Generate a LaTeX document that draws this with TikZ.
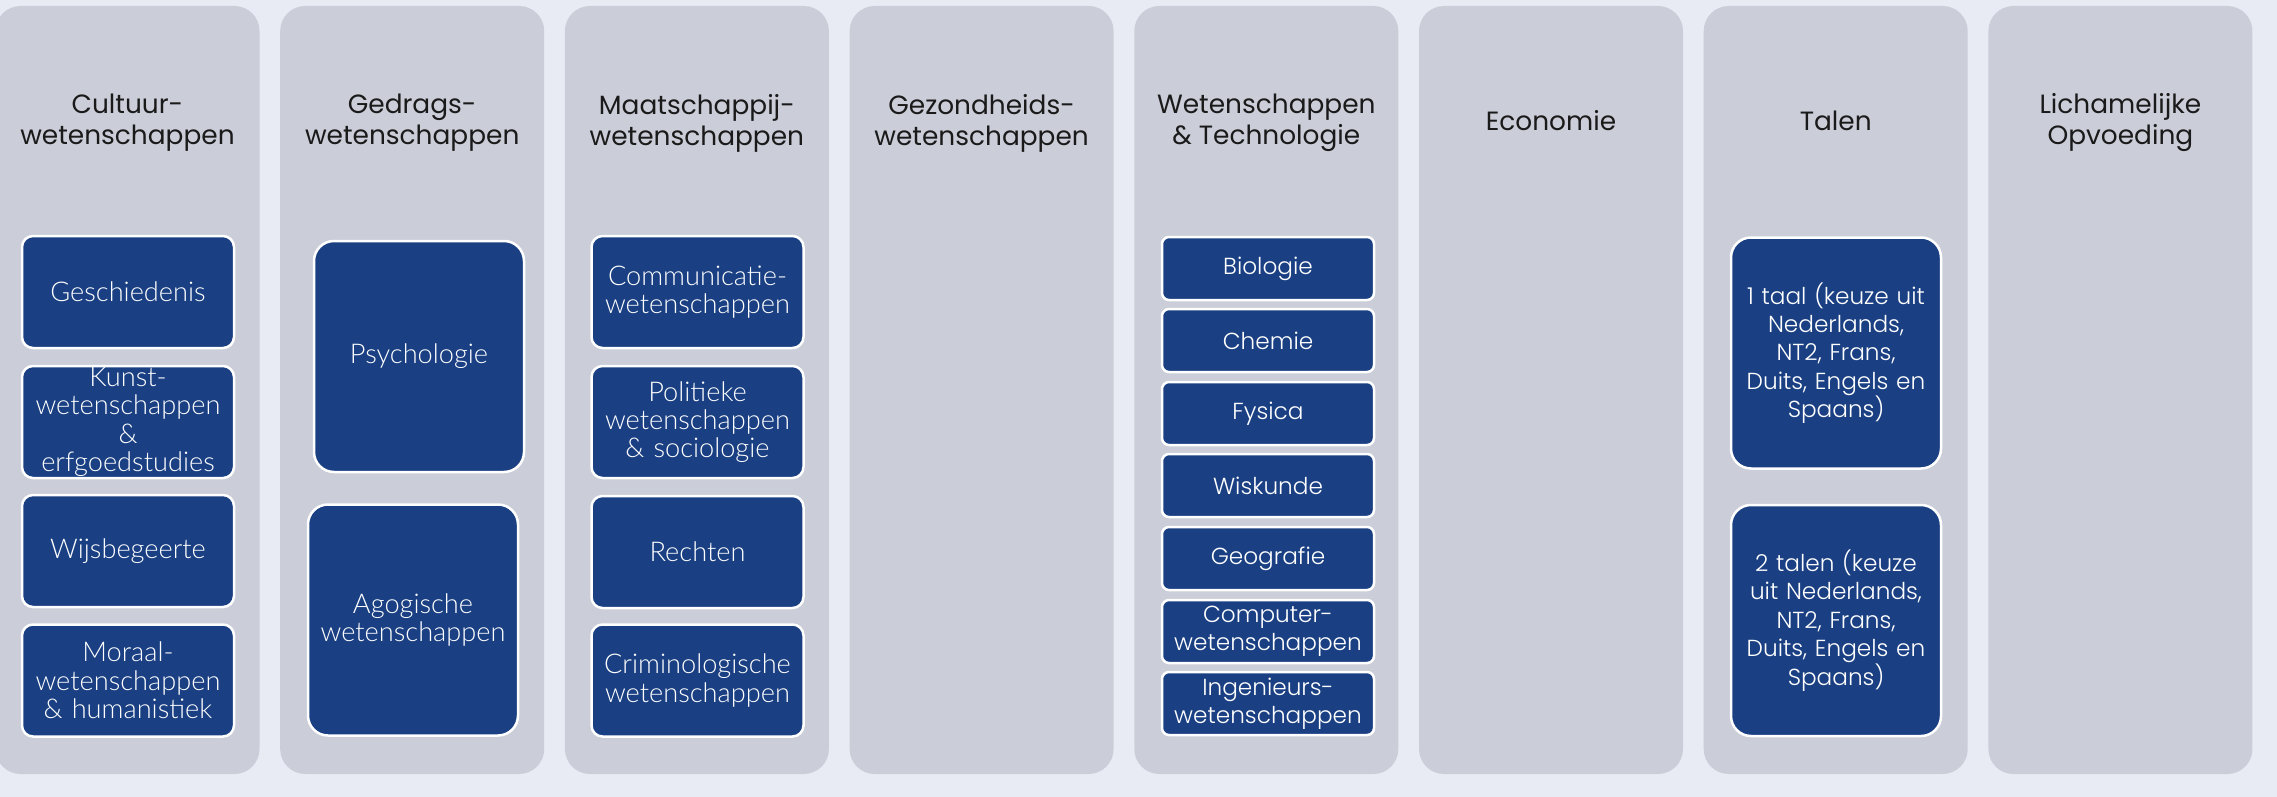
\documentclass[tikz,border=0pt]{standalone}
\usepackage{fontspec}
\setmainfont{Lato Light}
\newfontfamily\headfont{Poppins}
\newfontfamily\lightgeo{Poppins Light}
\definecolor{bg}{HTML}{E8EBF3}
\definecolor{colfill}{HTML}{CBCDD8}
\definecolor{boxblue}{HTML}{1A4083}
\definecolor{headtext}{HTML}{1A1A1A}
\begin{document}
\begin{tikzpicture}[x=1pt,y=-1pt,
  column/.style={fill=colfill, draw=none, rounded corners=25pt, minimum width=264pt, minimum height=768pt, inner sep=0pt},
  heading/.style={text=headtext, align=center, inner sep=0pt, font=\headfont\fontsize{26.4}{31}\selectfont},
  subj/.style={fill=boxblue, draw=white, line width=2.5pt, text=white, align=center, inner sep=0pt, font=\fontsize{27.2}{28.3}\selectfont},
  subjg/.style={subj, font=\lightgeo\fontsize{23.2}{28.4}\selectfont},
  bigbox/.style={text width=210pt, minimum height=231pt, rounded corners=20pt},
  midbox/.style={text width=212pt, minimum height=112pt, rounded corners=11pt},
  smallbox/.style={text width=212pt, minimum height=63pt, rounded corners=7pt},
]
\fill[bg] (0,0) rectangle (2277,797);
\useasboundingbox (0,0) rectangle (2277,797);

% columns
\node[column] (c1) at (127.5,390) {};
\node[column] (c2) at (412.2,390) {};
\node[column] (c3) at (696.9,390) {};
\node[column] (c4) at (981.6,390) {};
\node[column] (c5) at (1266.3,390) {};
\node[column] (c6) at (1551.0,390) {};
\node[column] (c7) at (1835.7,390) {};
\node[column] (c8) at (2120.4,390) {};

% headings
\node[heading] (h1) at (127.5,123) {Cultuur-\\wetenschappen};
\node[heading] (h2) at (412.2,123) {Gedrags-\\wetenschappen};
\node[heading] (h3) at (696.9,123) {Maatschappij-\\wetenschappen};
\node[heading] (h4) at (981.6,123) {Gezondheids-\\wetenschappen};
\node[heading] (h5) at (1266.3,123) {Wetenschappen\\\& Technologie};
\node[heading, anchor=base] (h6) at (1551.0,131) {Economie};
\node[heading, anchor=base] (h7) at (1835.7,131) {Talen};
\node[heading] (h8) at (2120.4,123) {Lichamelijke\\Opvoeding};

% column 1
\node[subj, midbox] (gesch) at (128,292) {Geschiedenis};
\node[subj, midbox] (kunst) at (128,422) {Kunst-\\wetenschappen\\\&\\erfgoedstudies};
\node[subj, midbox] (wijs) at (128,551) {Wijsbegeerte};
\node[subj, midbox] (moraal) at (128,680.5) {Moraal-\\wetenschappen\\\& humanistiek};

% column 2
\node[subj, bigbox] (psych) at (419,356.5) {Psychologie};
\node[subj, bigbox] (agog) at (413,620) {Agogische\\wetenschappen};

% column 3
\node[subj, midbox] (comm) at (697.5,292) {Communicatie-\\wetenschappen};
\node[subj, midbox] (pol) at (697.5,422) {Politieke\\wetenschappen\\\& sociologie};
\node[subj, midbox] (recht) at (697.5,552) {Rechten};
\node[subj, midbox] (crim) at (697.5,680.5) {Criminologische\\wetenschappen};

% column 5
\node[subjg, smallbox] (bio) at (1268,268.5) {Biologie};
\node[subjg, smallbox] (chem) at (1268,340.5) {Chemie};
\node[subjg, smallbox] (fys) at (1268,413.5) {Fysica};
\node[subjg, smallbox] (wisk) at (1268,485.5) {Wiskunde};
\node[subjg, smallbox] (geo) at (1268,558.5) {Geografie};
\node[subjg, smallbox] (comp) at (1268,631.5) {Computer-\\wetenschappen};
\node[subjg, smallbox] (ing) at (1268,703.5) {Ingenieurs-\\wetenschappen};

% column 7
\node[subjg, bigbox] (taal1) at (1836,353) {1 taal (keuze uit\\Nederlands,\\NT2, Frans,\\Duits, Engels en\\Spaans)};
\node[subjg, bigbox] (taal2) at (1836,620.5) {2 talen (keuze\\uit Nederlands,\\NT2, Frans,\\Duits, Engels en\\Spaans)};
\end{tikzpicture}
\end{document}
